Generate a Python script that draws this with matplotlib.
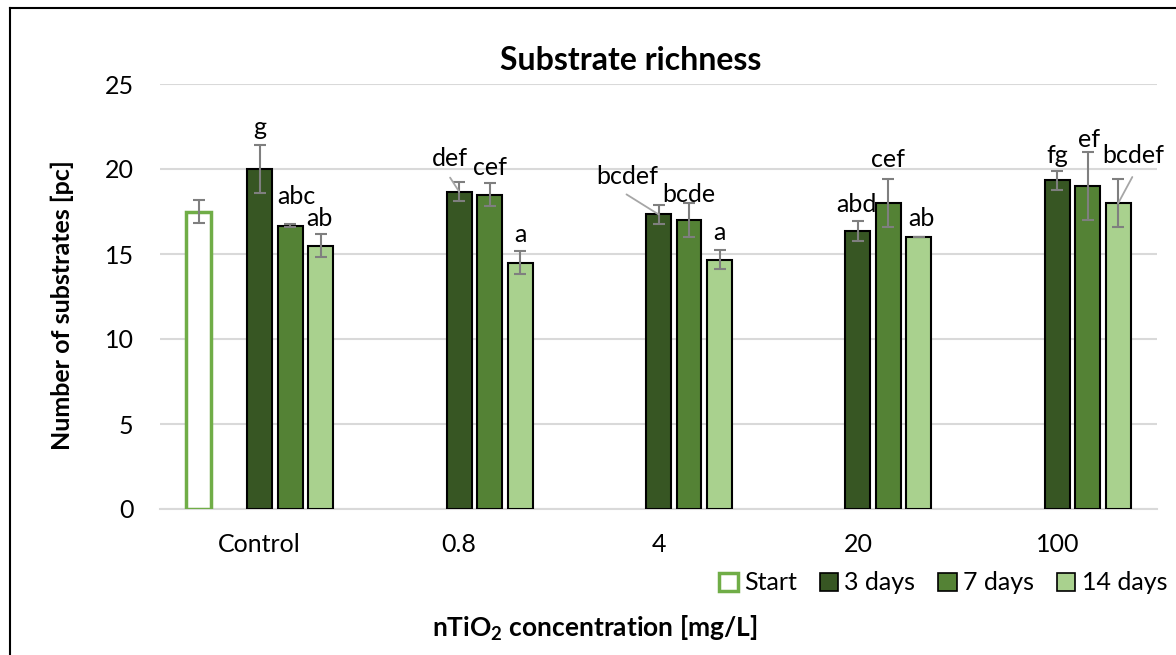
import matplotlib.pyplot as plt
import numpy as np
from matplotlib.lines import Line2D
from matplotlib.patches import Patch

plt.rcParams['font.family'] = ['Lato', 'DejaVu Sans']
plt.rcParams['mathtext.fontset'] = 'custom'
plt.rcParams['mathtext.bf'] = 'Lato:bold'
plt.rcParams['mathtext.rm'] = 'Lato:bold'

categories = ["Control", "0.8", "4", "20", "100"]
series = ["3 days", "7 days", "14 days"]

start_value = 17.5
start_err = 0.7

means = {
    "3 days": [20.0, 18.67, 17.33, 16.33, 19.33],
    "7 days": [16.67, 18.5, 17.0, 18.0, 19.0],
    "14 days": [15.5, 14.5, 14.67, 16.0, 18.0],
}
errors = {
    "3 days": [1.4, 0.58, 0.57, 0.59, 0.57],
    "7 days": [0.1, 0.7, 1.0, 1.42, 2.0],
    "14 days": [0.7, 0.7, 0.57, 0.0, 1.41],
}
letters = {
    "3 days": ["g", "def", "bcdef", "abd", "fg"],
    "7 days": ["abc", "cef", "bcde", "cef", "ef"],
    "14 days": ["ab", "a", "a", "ab", "bcdef"],
}
# label baseline offsets in pixels from the top of the error bar (dx, dy)
label_offsets = {
    "3 days": [(0, 10), (-9, 16), (-31, 21), (-1, 9), (0, 8)],
    "7 days": [(6, 20), (0, 8), (0, 1), (0, 12), (1, 5)],
    "14 days": [(-1, 8), (0, 9), (0, 10), (3, 11), (15, 16)],
}
# leader line start, pixels from the bar top (None = no leader)
leader_start = {
    "3 days": [None, (-9, 14), (-32, 20), None, None],
    "7 days": [None, None, None, None, None],
    "14 days": [None, None, None, None, (14, 26)],
}

colors = {"3 days": "#375623", "7 days": "#548235", "14 days": "#A9D18E"}
start_color = "#70AD47"
fs = 18

fig = plt.figure(figsize=(11.76, 6.55), dpi=100)
ax = fig.add_axes([160 / 1176, 1 - 509 / 655, 997 / 1176, 425 / 655])

x = np.arange(len(categories))
step = 0.153
width = 0.125
offsets = {"3 days": 0.0, "7 days": step, "14 days": 2 * step}

ax.bar(x[0] - 2 * step, start_value, width, facecolor="white",
       edgecolor=start_color, linewidth=2.5, zorder=3)
ax.errorbar(x[0] - 2 * step, start_value, yerr=start_err, fmt="none",
            ecolor="#7F7F7F", elinewidth=1.5, capsize=4.5, capthick=1.5, zorder=4)

for s in series:
    xs = x + offsets[s]
    ax.bar(xs, means[s], width, color=colors[s], edgecolor="black",
           linewidth=1.5, zorder=3)
    errs = np.array(errors[s])
    ax.errorbar(xs, means[s], yerr=errs, fmt="none", ecolor="#7F7F7F",
                elinewidth=1.5, capsize=4.5, capthick=1.5, zorder=4)
    for i, (xi, m, e, lab) in enumerate(zip(xs, means[s], errs, letters[s])):
        dx, dy = label_offsets[s][i]
        ax.annotate(lab, xy=(xi, m + e), xytext=(dx, dy),
                    textcoords="offset pixels", ha="center", va="baseline",
                    fontsize=fs, zorder=5)
        if leader_start[s][i] is not None:
            ax.annotate("", xy=(xi, m), xytext=leader_start[s][i],
                        textcoords="offset pixels",
                        arrowprops=dict(arrowstyle="-", color="#A6A6A6", lw=1.3,
                                        shrinkA=0, shrinkB=0), zorder=5)

ax.set_xlim(-0.5, 4.5)
ax.set_ylim(0, 25)
ax.set_yticks(range(0, 26, 5))
ax.set_xticks(x)
ax.set_xticklabels(categories)
ax.yaxis.grid(True, color="#D9D9D9", linewidth=1.5, zorder=0)
ax.set_axisbelow(True)
for side in ["top", "right", "left"]:
    ax.spines[side].set_visible(False)
ax.spines["bottom"].set_color("#D9D9D9")
ax.spines["bottom"].set_linewidth(1.5)
ax.tick_params(axis="both", length=0, labelsize=fs, colors="black")
ax.tick_params(axis="y", pad=19)
ax.tick_params(axis="x", pad=17)

fig.text(631 / 1176, 1 - 60 / 655, "Substrate richness", fontsize=23,
         fontweight="bold", ha="center", va="center")
fig.text(62 / 1176, 1 - 305 / 655, "Number of substrates [pc]", fontsize=fs,
         fontweight="bold", rotation=90, ha="center", va="center")
fig.text(595 / 1176, 1 - 628 / 655, r"nTiO$_\mathbf{2}$ concentration [mg/L]",
         fontsize=19, fontweight="bold", ha="center", va="center")

handles = [Patch(facecolor="white", edgecolor=start_color, linewidth=2.5, label="Start")]
handles += [Patch(facecolor=colors[s], edgecolor="black", linewidth=1.2, label=s) for s in series]
fig.legend(handles=handles, loc="center right", bbox_to_anchor=(1167 / 1176, 1 - 583 / 655),
           ncol=4, frameon=False, fontsize=fs, handlelength=0.75, handleheight=0.75,
           handletextpad=0.25, columnspacing=0.9, borderaxespad=0, borderpad=0)

fig.add_artist(Line2D([10 / 1176, 10 / 1176], [0, 1 - 8 / 655], color="black",
                      linewidth=1.5, transform=fig.transFigure))
fig.add_artist(Line2D([10 / 1176, 1], [1 - 8 / 655, 1 - 8 / 655], color="black",
                      linewidth=1.5, transform=fig.transFigure))

fig.savefig("out.png", dpi=100)
